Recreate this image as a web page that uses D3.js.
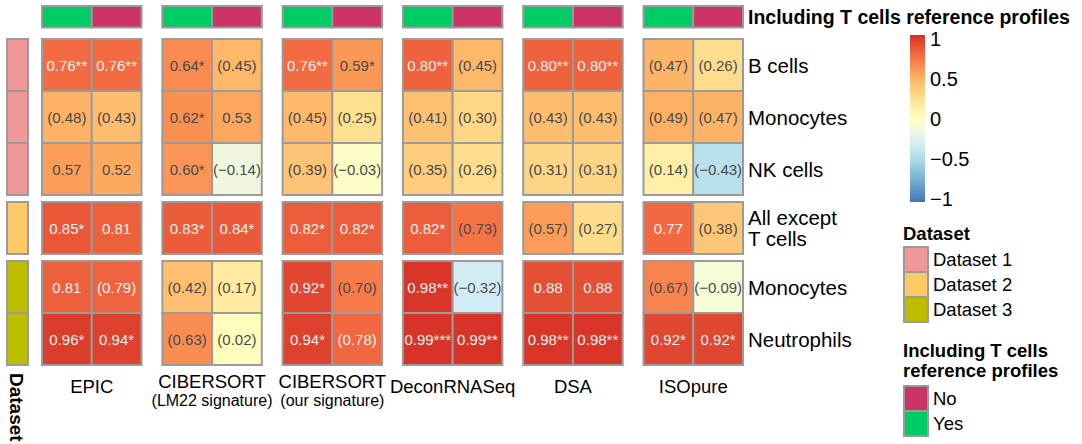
<!DOCTYPE html>
<html>
<head>
<meta charset="utf-8">
<script src="https://cdn.jsdelivr.net/npm/d3@7"></script>
<style>
  html, body { margin: 0; padding: 0; background: #fff; }
  svg { display: block; font-family: "Liberation Sans", Arial, Helvetica, sans-serif; }
</style>
</head>
<body>
<svg id="chart" width="1082" height="444"></svg>
<script>
// Deconvolution methods (column blocks) and their optional subtitle lines
const methods = ["EPIC", "CIBERSORT", "CIBERSORT", "DeconRNASeq", "DSA", "ISOpure"];
const methodSubtitles = ["", "(LM22 signature)", "(our signature)", "", "", ""];

// Whether T cell reference profiles were included (two columns per method)
const tcellsIncluded = ["Yes", "No"];

// Rows: cell types and the dataset they belong to
const rowLabels = ["B cells", "Monocytes", "NK cells", "All except\nT cells", "Monocytes", "Neutrophils"];
const rowDatasets = ["Dataset 1", "Dataset 1", "Dataset 1", "Dataset 2", "Dataset 3", "Dataset 3"];
const datasets = ["Dataset 1", "Dataset 2", "Dataset 3"];

// Correlations, rows x methods, with T cells profiles included
const corrYes = [
  [0.76, 0.64, 0.76, 0.80, 0.80, 0.47],
  [0.48, 0.62, 0.45, 0.41, 0.43, 0.49],
  [0.57, 0.60, 0.39, 0.35, 0.31, 0.14],
  [0.85, 0.83, 0.82, 0.82, 0.57, 0.77],
  [0.81, 0.42, 0.92, 0.98, 0.88, 0.67],
  [0.96, 0.63, 0.94, 0.99, 0.98, 0.92]
];
// Significance marks ("()" = shown in parentheses)
const markYes = [
  ["**", "*", "**", "**", "**", "()"],
  ["()", "*", "()", "()", "()", "()"],
  ["", "*", "()", "()", "()", "()"],
  ["*", "*", "*", "*", "()", ""],
  ["", "()", "*", "**", "", "()"],
  ["*", "()", "*", "***", "**", "*"]
];

// Correlations, rows x methods, without T cells profiles
const corrNo = [
  [0.76, 0.45, 0.59, 0.45, 0.80, 0.26],
  [0.43, 0.53, 0.25, 0.30, 0.43, 0.47],
  [0.52, -0.14, -0.03, 0.26, 0.31, -0.43],
  [0.81, 0.84, 0.82, 0.73, 0.27, 0.38],
  [0.79, 0.17, 0.70, -0.32, 0.88, -0.09],
  [0.94, 0.02, 0.78, 0.99, 0.98, 0.92]
];
const markNo = [
  ["**", "()", "*", "()", "**", "()"],
  ["()", "", "()", "()", "()", "()"],
  ["", "()", "()", "()", "()", "()"],
  ["", "*", "*", "()", "()", "()"],
  ["()", "()", "()", "()", "", "()"],
  ["*", "()", "()", "**", "**", "*"]
];

// Colour legend ticks
const legendTicks = [1, 0.5, 0, -0.5, -1];

// ---------------------------------------------------------------
const svg = d3.select("#chart");
const GRID = "#9b9b9b";

const heatColor = d3.scaleLinear()
  .domain([-1, -0.75, -0.5, -0.25, 0, 0.25, 0.5, 0.75, 1])
  .range(["#4575B4", "#74ADD1", "#ABD9E9", "#E0F3F8", "#FFFFBF", "#FEE090", "#FDAE61", "#F46D43", "#D73027"])
  .interpolate(d3.interpolateLab)
  .clamp(true);

const datasetColor = d3.scaleOrdinal().domain(datasets).range(["#F1979A", "#FDC966", "#BEBE00"]);
const tcellColor = d3.scaleOrdinal().domain(["No", "Yes"]).range(["#CC3366", "#00CC66"]);

// Column blocks
const xBlock = d3.scaleBand().domain(d3.range(methods.length)).range([42, 743]).paddingInner(0.173);
const xSub = d3.scaleBand().domain(tcellsIncluded).range([0, xBlock.bandwidth()]);

// Rows, split into dataset groups with a small gap between groups
const heatTop = 39, heatBottom = 365, groupGap = 7;
const groupIndex = rowDatasets.map(d => datasets.indexOf(d));
const rowH = (heatBottom - heatTop - groupGap * (datasets.length - 1)) / rowLabels.length;
const yRow = d3.scaleLinear().domain([0, rowLabels.length]).range([heatTop, heatTop + rowH * rowLabels.length]);
const rowY = i => yRow(i) + groupIndex[i] * groupGap;

const fmt = d3.format(".2f");
const label = (v, m) => m === "()" ? `(${fmt(v)})` : fmt(v) + m;

// Cells
const cells = [];
rowLabels.forEach((_, r) => {
  methods.forEach((_, m) => {
    cells.push({ r, m, t: "Yes", v: corrYes[r][m], mark: markYes[r][m] });
    cells.push({ r, m, t: "No", v: corrNo[r][m], mark: markNo[r][m] });
  });
});

const gCells = svg.append("g");
const cell = gCells.selectAll("g.cell").data(cells).join("g")
  .attr("class", "cell")
  .attr("transform", d => `translate(${xBlock(d.m) + xSub(d.t)},${rowY(d.r)})`);
cell.append("rect")
  .attr("width", xSub.bandwidth())
  .attr("height", rowH)
  .attr("fill", d => heatColor(d.v))
  .attr("stroke", GRID)
  .attr("stroke-width", 2);
cell.append("text")
  .attr("x", xSub.bandwidth() / 2)
  .attr("y", rowH / 2)
  .attr("text-anchor", "middle")
  .attr("dominant-baseline", "central")
  .attr("font-size", 15)
  .attr("fill", d => d.v >= 0.75 ? "#F3F0EE" : "#4A4A4A")
  .text(d => label(d.v, d.mark));

// Top annotation: T cells included
const gTop = svg.append("g");
methods.forEach((_, m) => {
  tcellsIncluded.forEach(t => {
    gTop.append("rect")
      .attr("x", xBlock(m) + xSub(t))
      .attr("y", 6)
      .attr("width", xSub.bandwidth())
      .attr("height", 21.5)
      .attr("fill", tcellColor(t))
      .attr("stroke", GRID)
      .attr("stroke-width", 2);
  });
});
svg.append("text")
  .attr("x", 748).attr("y", 24)
  .attr("font-size", 19.5).attr("font-weight", "bold")
  .text("Including T cells reference profiles");

// Left annotation: dataset
svg.append("g").selectAll("rect").data(rowDatasets).join("rect")
  .attr("x", 7).attr("y", (d, i) => rowY(i))
  .attr("width", 21).attr("height", rowH)
  .attr("fill", d => datasetColor(d))
  .attr("stroke", GRID).attr("stroke-width", 2);
svg.append("text")
  .attr("transform", "translate(16,373) rotate(90)")
  .attr("dominant-baseline", "central")
  .attr("font-size", 19).attr("font-weight", "bold")
  .text("Dataset");

// Row labels
const gRowLab = svg.append("g");
rowLabels.forEach((lab, i) => {
  const lines = lab.split("\n");
  const cy = rowY(i) + rowH / 2;
  const t = gRowLab.append("text")
    .attr("x", 748)
    .attr("font-size", 20.5);
  lines.forEach((ln, k) => {
    t.append("tspan")
      .attr("x", 748)
      .attr("y", cy + (k - (lines.length - 1) / 2) * 21)
      .attr("dominant-baseline", "central")
      .text(ln);
  });
});

// Column titles
const gColLab = svg.append("g");
methods.forEach((name, m) => {
  const cx = xBlock(m) + xBlock.bandwidth() / 2;
  if (methodSubtitles[m]) {
    gColLab.append("text").attr("x", cx).attr("y", 388)
      .attr("text-anchor", "middle").attr("font-size", 18.5).text(name);
    gColLab.append("text").attr("x", cx).attr("y", 406)
      .attr("text-anchor", "middle").attr("font-size", 16).text(methodSubtitles[m]);
  } else {
    gColLab.append("text").attr("x", cx).attr("y", 392.5)
      .attr("text-anchor", "middle").attr("font-size", 18.5).text(name);
  }
});

// Colour legend
const defs = svg.append("defs");
const grad = defs.append("linearGradient").attr("id", "corrGrad")
  .attr("x1", 0).attr("y1", 1).attr("x2", 0).attr("y2", 0);
d3.range(0, 1.0001, 0.05).forEach(f => {
  grad.append("stop").attr("offset", f).attr("stop-color", heatColor(-1 + 2 * f));
});
svg.append("rect").attr("x", 910).attr("y", 35).attr("width", 15).attr("height", 167)
  .attr("fill", "url(#corrGrad)");
const yLegend = d3.scaleLinear().domain([-1, 1]).range([198.5, 39]);
svg.append("g").selectAll("text").data(legendTicks).join("text")
  .attr("x", 930).attr("y", d => yLegend(d))
  .attr("dominant-baseline", "central")
  .attr("font-size", 20)
  .text(d => d3.format("")(d));

// Discrete legends
function discreteLegend(titleLines, titleY, keys, colors, boxY) {
  const g = svg.append("g");
  titleLines.forEach((ln, k) => {
    g.append("text").attr("x", 903).attr("y", titleY + k * 20)
      .attr("font-size", 18.5).attr("font-weight", "bold").text(ln);
  });
  keys.forEach((k, i) => {
    g.append("rect").attr("x", 904).attr("y", boxY + i * 25)
      .attr("width", 24).attr("height", 25)
      .attr("fill", colors(k)).attr("stroke", GRID).attr("stroke-width", 2);
    g.append("text").attr("x", 933).attr("y", boxY + i * 25 + 12.5)
      .attr("dominant-baseline", "central").attr("font-size", 18.5).text(k);
  });
}
discreteLegend(["Dataset"], 240, datasets, datasetColor, 247);
discreteLegend(["Including T cells", "reference profiles"], 357, ["No", "Yes"], tcellColor, 386);
</script>
</body>
</html>
